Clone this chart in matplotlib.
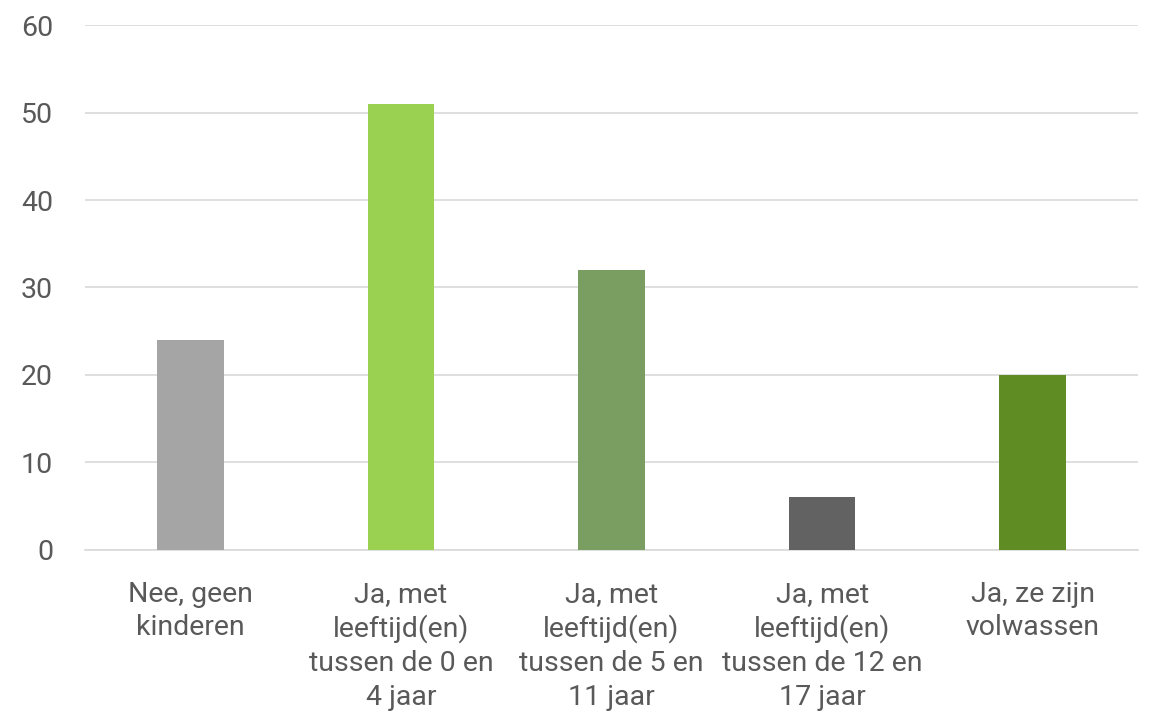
import matplotlib.pyplot as plt

# ----------- DATA -----------
categories = [
    "Nee, geen\nkinderen",
    "Ja, met\nleeftijd(en)\ntussen de 0 en\n4 jaar",
    "Ja, met\nleeftijd(en)\ntussen de 5 en\n11 jaar",
    "Ja, met\nleeftijd(en)\ntussen de 12 en\n17 jaar",
    "Ja, ze zijn\nvolwassen",
]
values = [24, 51, 32, 6, 20]
bar_colors = ["#A5A5A5", "#9BD151", "#7A9D62", "#626262", "#5F8C23"]
y_ticks = [0, 10, 20, 30, 40, 50, 60]

# ----------- PLOT -----------
plt.rcParams['font.family'] = ['Roboto', 'DejaVu Sans']
fig = plt.figure(figsize=(11.53, 7.25), dpi=100)
ax = fig.add_axes([0.0737, 0.2414, 0.9133, 0.7241])

x = range(len(categories))
ax.bar(x, values, width=0.317, color=bar_colors, zorder=3)

ax.set_xlim(-0.5, len(categories) - 0.5)
ax.set_ylim(0, 60)
ax.set_yticks(y_ticks)
ax.yaxis.grid(True, color="#D9D9D9", linewidth=1.2, zorder=0)
ax.set_xticks(list(x))
ax.set_xticklabels(categories, linespacing=1.32)

for s in ["top", "right", "left"]:
    ax.spines[s].set_visible(False)
ax.spines["bottom"].set_color("#D9D9D9")
ax.spines["bottom"].set_linewidth(1.2)
ax.tick_params(axis="both", length=0, labelsize=20.5, colors="#595959")
ax.tick_params(axis="y", pad=23)
ax.tick_params(axis="x", pad=22)

fig.savefig("out.png", dpi=100)
